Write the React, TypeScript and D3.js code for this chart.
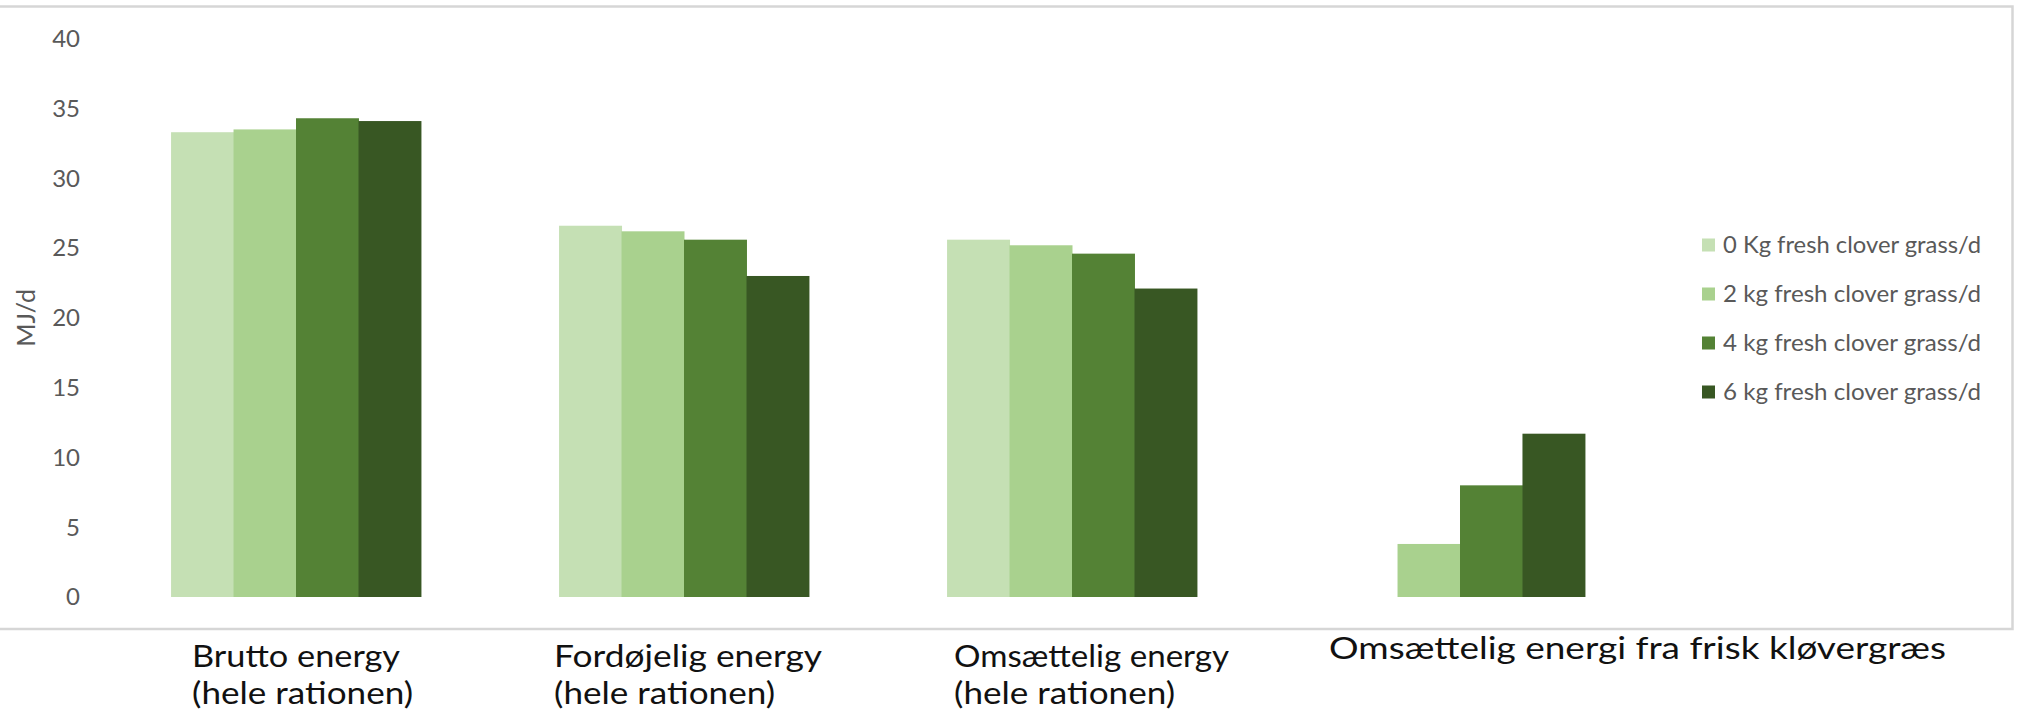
import React from "react";
import * as d3 from "d3";

const categories = ["Brutto", "Fordøjelig", "Omsættelig", "Frisk"];
const categoryLines = [
  ["Brutto energy", "(hele rationen)"],
  ["Fordøjelig energy", "(hele rationen)"],
  ["Omsættelig energy", "(hele rationen)"],
  ["Omsættelig energi fra frisk kløvergræs"],
];
const seriesNames = [
  "0 Kg fresh clover grass/d",
  "2 kg fresh clover grass/d",
  "4 kg fresh clover grass/d",
  "6 kg fresh clover grass/d",
];
const kg0 = [33.3, 26.6, 25.6, 0];
const kg2 = [33.5, 26.2, 25.2, 3.8];
const kg4 = [34.3, 25.6, 24.6, 8.0];
const kg6 = [34.1, 23.0, 22.1, 11.7];
const seriesValues = [kg0, kg2, kg4, kg6];
const yTicks = [0, 5, 10, 15, 20, 25, 30, 35, 40];
const colors = ["#c5e0b4", "#a9d18e", "#548235", "#385723"];

// layout (not data)
const labelLayout = [
  { dx: 21, y: 667, widths: [208, 221] },
  { dx: -5, y: 667, widths: [268, 221] },
  { dx: 7, y: 667, widths: [275, 221] },
  { dx: -6, y: 659, widths: [617] },
];

export default function App() {
  const W = 2021;
  const H = 713;
  const x = d3
    .scaleBand<string>()
    .domain(categories)
    .range([102, 1654])
    .paddingInner(0.356)
    .paddingOuter(0.178);
  const xs = d3
    .scaleBand<number>()
    .domain(d3.range(seriesNames.length))
    .range([0, x.bandwidth()]);
  const y = d3.scaleLinear().domain([0, 40]).range([597, 38.7]);
  const legendY = d3
    .scalePoint<number>()
    .domain(d3.range(seriesNames.length))
    .range([245, 392]);

  return (
    <svg
      width={W}
      height={H}
      style={{ position: "absolute", left: 0, top: 0, background: "#fff" }}
    >
      <rect x={0} y={0} width={W} height={H} fill="#fff" />
      {/* frame */}
      <path
        d={`M0,6.5 H2012.5 V629 H0`}
        fill="none"
        stroke="#d6d6d6"
        strokeWidth={2.5}
      />
      {/* y ticks */}
      {yTicks.map((t) => (
        <text
          key={t}
          x={80}
          y={y(t)}
          dy="0.35em"
          textAnchor="end"
          fontFamily="Lato, 'Open Sans', sans-serif"
          fontSize={24}
          fill="#595959"
        >
          {t}
        </text>
      ))}
      <text
        transform={`translate(35,${(y(0) + y(40)) / 2}) rotate(-90)`}
        textAnchor="middle"
        fontFamily="Lato, 'Open Sans', sans-serif"
        fontSize={25}
        fill="#595959"
      >
        MJ/d
      </text>
      {/* bars */}
      {categories.map((c, ci) => (
        <g key={c} transform={`translate(${x(c)},0)`}>
          {seriesValues.map((vals, si) =>
            vals[ci] > 0 ? (
              <rect
                key={si}
                x={xs(si)}
                y={y(vals[ci])}
                width={xs.bandwidth() + 0.5}
                height={y(0) - y(vals[ci])}
                fill={colors[si]}
              />
            ) : null
          )}
        </g>
      ))}
      {/* legend */}
      {seriesNames.map((s, i) => (
        <g key={s} transform={`translate(1702,${legendY(i)})`}>
          <rect x={0} y={-6.5} width={13} height={13} fill={colors[i]} />
          <text
            x={21}
            y={0}
            dy="0.35em"
            fontFamily="Lato, 'Open Sans', sans-serif"
            fontSize={24}
            fill="#595959"
            textLength={258}
            lengthAdjust="spacingAndGlyphs"
          >
            {s}
          </text>
        </g>
      ))}
      {/* category labels */}
      {categories.map((c, ci) => (
        <g key={c}>
          {categoryLines[ci].map((line, li) => (
            <text
              key={li}
              x={(x(c) as number) + labelLayout[ci].dx}
              y={labelLayout[ci].y + li * 37}
              fontFamily="Lato, 'Noto Sans', sans-serif"
              fontSize={30}
              fill="#111"
              textLength={labelLayout[ci].widths[li]}
              lengthAdjust="spacingAndGlyphs"
            >
              {line}
            </text>
          ))}
        </g>
      ))}
    </svg>
  );
}
